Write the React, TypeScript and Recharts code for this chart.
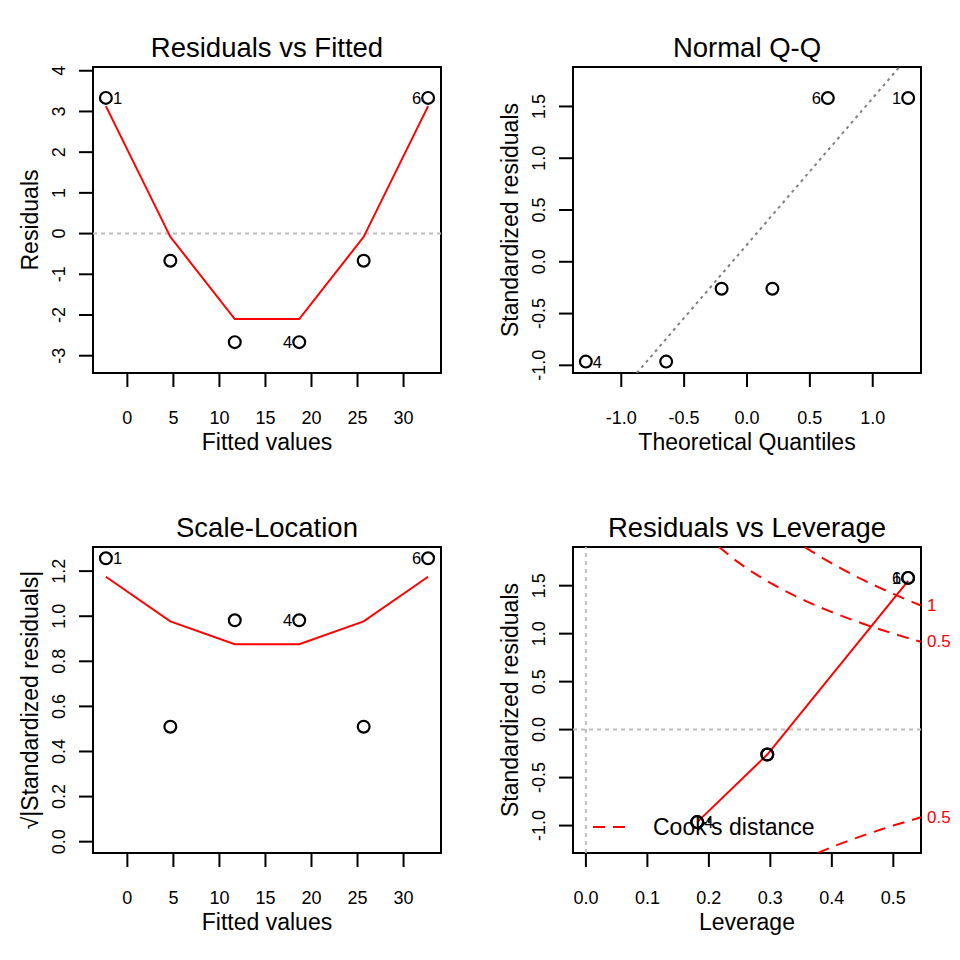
import React from 'react';
import {
  ComposedChart,
  XAxis,
  YAxis,
  Scatter,
  Line,
  ReferenceLine,
  ReferenceArea,
  ReferenceDot,
  Legend,
} from 'recharts';

// lm(y ~ x), x = 1..6, y = x^2 — diagnostic values
const obsIds = [1, 2, 3, 4, 5, 6];
const fitted = [-2.333, 4.667, 11.667, 18.667, 25.667, 32.667];
const residuals = [3.333, -0.667, -2.667, -2.667, -0.667, 3.333];
const stdResiduals = [1.581, -0.26, -0.964, -0.964, -0.26, 1.581];
const sqrtAbsStdRes = [1.257, 0.51, 0.982, 0.982, 0.51, 1.257];
const theoQuantiles = [1.282, -0.202, -0.643, -1.282, 0.202, 0.643];
const leverage = [0.524, 0.295, 0.181, 0.181, 0.295, 0.524];
const labelledIds = [1, 6, 4];

// red smoothers
const fitSmooth = [3.13, -0.08, -2.1, -2.1, -0.08, 3.13];
const scaleSmooth = [1.175, 0.977, 0.876, 0.876, 0.977, 1.175];
const levSmoothX = [0.181, 0.295, 0.524];
const levSmoothY = [-0.964, -0.26, 1.55];

// normal Q-Q reference line
const qqIntercept = 0.166;
const qqSlope = 1.415;

// Cook's distance contours (0.5 and 1)
const cookH05 = [0.2165, 0.24, 0.26, 0.28, 0.3, 0.32, 0.34, 0.36, 0.38, 0.4, 0.42, 0.44, 0.46, 0.48, 0.5, 0.52, 0.545];
const cookR05 = [1.903, 1.78, 1.687, 1.604, 1.528, 1.458, 1.393, 1.333, 1.277, 1.225, 1.175, 1.128, 1.083, 1.041, 1.0, 0.961, 0.914];
const cookH1 = [0.356, 0.38, 0.4, 0.42, 0.44, 0.46, 0.48, 0.5, 0.52, 0.545];
const cookR1 = [1.902, 1.806, 1.732, 1.662, 1.595, 1.532, 1.472, 1.414, 1.359, 1.292];
const cookHLow = [0.377, 0.4, 0.42, 0.44, 0.46, 0.48, 0.5, 0.52, 0.545];
const cookRLow = [-1.285, -1.225, -1.175, -1.128, -1.083, -1.041, -1.0, -0.961, -0.914];

// ticks
const fittedTicks = [0, 5, 10, 15, 20, 25, 30];
const residTicks = [-3, -2, -1, 0, 1, 2, 3, 4];
const qqXTicks = [-1, -0.5, 0, 0.5, 1];
const stdResTicks = [-1, -0.5, 0, 0.5, 1, 1.5];
const sqrtTicks = [0, 0.2, 0.4, 0.6, 0.8, 1.0, 1.2];
const levTicks = [0, 0.1, 0.2, 0.3, 0.4, 0.5];

const FONT = '"Liberation Sans", Arial, Helvetica, sans-serif';
const W = 480;
const H = 480;
// axes take 1px each, so the plotting box is 93..441 x 67..373
const M = { top: 67, right: 39, bottom: 106, left: 92 };
const BOX_L = M.left + 1;
const BOX_R = W - M.right;
const BOX_T = M.top;
const BOX_B = H - M.bottom - 1;
const RED = '#FF0000';

const intFmt = (v: number) => String(v);
const dec1 = (v: number) => v.toFixed(1);

type Pt = { x: number; y: number; id: number; side: 'left' | 'right' | null };

function makePoints(xs: number[], ys: number[]): Pt[] {
  const mid = (Math.min(...xs) + Math.max(...xs)) / 2;
  return obsIds.map((id, i) => ({
    x: xs[i],
    y: ys[i],
    id,
    side: labelledIds.includes(id) ? (xs[i] > mid ? 'left' : 'right') : null,
  }));
}

const toRows = (xs: number[], ys: number[]) => xs.map((x, i) => ({ x, y: ys[i] }));

function PointShape(props: any) {
  const { cx, cy, payload } = props;
  if (cx == null || cy == null) return null;
  const side = payload.side;
  return (
    <g>
      <circle cx={cx} cy={cy} r={5.9} fill="none" stroke="#000" strokeWidth={2.2} />
      {side && (
        <text
          x={side === 'left' ? cx - 7 : cx + 7}
          y={cy}
          textAnchor={side === 'left' ? 'end' : 'start'}
          dominantBaseline="central"
          fontSize={16.5}
          fontFamily={FONT}
          fill="#000"
        >
          {payload.id}
        </text>
      )}
    </g>
  );
}

const xTick = (fmt: (v: number) => string) => (props: any) => {
  const x = props.payload?.coordinate ?? props.x;
  return (
    <g>
      <line x1={x} x2={x} y1={BOX_B} y2={BOX_B + 14} stroke="#000" strokeWidth={2} />
      <text x={x} y={BOX_B + 51} textAnchor="middle" fontSize={18} fontFamily={FONT} fill="#000">
        {fmt(props.payload.value)}
      </text>
    </g>
  );
};

const yTick = (fmt: (v: number) => string) => (props: any) => {
  const y = props.payload?.coordinate ?? props.y;
  const tx = BOX_L - 28;
  return (
    <g>
      <line x1={BOX_L} x2={BOX_L - 14} y1={y} y2={y} stroke="#000" strokeWidth={2} />
      <text
        x={tx}
        y={y}
        transform={`rotate(-90 ${tx} ${y})`}
        textAnchor="middle"
        fontSize={18}
        fontFamily={FONT}
        fill="#000"
      >
        {fmt(props.payload.value)}
      </text>
    </g>
  );
};

interface PanelProps {
  title: string;
  xTitle: string;
  yTitle: string;
  xDomain: [number, number];
  yDomain: [number, number];
  xTicks: number[];
  yTicks: number[];
  xFmt: (v: number) => string;
  yFmt: (v: number) => string;
  points: Pt[];
  left: number;
  top: number;
  children?: React.ReactNode;
}

function Panel({ title, xTitle, yTitle, xDomain, yDomain, xTicks, yTicks, xFmt, yFmt, points, left, top, children }: PanelProps) {
  const cx = (BOX_L + BOX_R) / 2;
  const cy = (BOX_T + BOX_B) / 2;
  return (
    <div style={{ position: 'absolute', left, top, width: W, height: H }}>
      <ComposedChart width={W} height={H} margin={M}>
        <XAxis
          type="number"
          dataKey="x"
          domain={xDomain}
          allowDataOverflow
          ticks={xTicks}
          interval={0}
          height={1}
          axisLine={false}
          tickLine={false}
          tick={xTick(xFmt)}
          label={{
            content: () => (
              <g fontFamily={FONT} fill="#000">
                <text x={cx} y={BOX_T - 10} textAnchor="middle" fontSize={27.5}>
                  {title}
                </text>
                <text x={cx} y={BOX_B + 77} textAnchor="middle" fontSize={23}>
                  {xTitle}
                </text>
              </g>
            ),
          }}
        />
        <YAxis
          type="number"
          dataKey="y"
          domain={yDomain}
          allowDataOverflow
          ticks={yTicks}
          interval={0}
          width={1}
          axisLine={false}
          tickLine={false}
          tick={yTick(yFmt)}
          label={{
            content: () => (
              <text
                x={BOX_L - 55}
                y={cy}
                transform={`rotate(-90 ${BOX_L - 55} ${cy})`}
                textAnchor="middle"
                fontSize={23}
                fontFamily={FONT}
                fill="#000"
              >
                {yTitle}
              </text>
            ),
          }}
        />
        {children}
        <Scatter data={points} dataKey="y" shape={PointShape} isAnimationActive={false} legendType="none" />
        <ReferenceArea
          x1={xDomain[0]}
          x2={xDomain[1]}
          y1={yDomain[0]}
          y2={yDomain[1]}
          fill="none"
          fillOpacity={0}
          stroke="#000"
          strokeWidth={2}
          ifOverflow="visible"
        />
      </ComposedChart>
    </div>
  );
}

const cookLabels = [
  { y: cookR1[cookR1.length - 1], text: '1' },
  { y: cookR05[cookR05.length - 1], text: '0.5' },
  { y: cookRLow[cookRLow.length - 1], text: '0.5' },
];

export default function App() {
  const p4x: [number, number] = [-0.021, 0.545];
  const qqX: [number, number] = [-1.384, 1.384];
  return (
    <div style={{ position: 'absolute', left: 0, top: 0, width: 960, height: 960, background: '#fff', fontFamily: FONT }}>
      <Panel
        title="Residuals vs Fitted"
        xTitle="Fitted values"
        yTitle="Residuals"
        xDomain={[-3.733, 34.067]}
        yDomain={[-3.425, 4.092]}
        xTicks={fittedTicks}
        yTicks={residTicks}
        xFmt={intFmt}
        yFmt={intFmt}
        points={makePoints(fitted, residuals)}
        left={0}
        top={0}
      >
        <ReferenceLine y={0} stroke="#bebebe" strokeWidth={2} strokeDasharray="4 4" />
        <Line
          data={toRows(fitted, fitSmooth)}
          dataKey="y"
          type="linear"
          stroke={RED}
          strokeWidth={2}
          dot={false}
          activeDot={false}
          isAnimationActive={false}
          legendType="none"
        />
      </Panel>

      <Panel
        title="Normal Q-Q"
        xTitle="Theoretical Quantiles"
        yTitle="Standardized residuals"
        xDomain={qqX}
        yDomain={[-1.074, 1.881]}
        xTicks={qqXTicks}
        yTicks={stdResTicks}
        xFmt={dec1}
        yFmt={dec1}
        points={makePoints(theoQuantiles, stdResiduals)}
        left={480}
        top={0}
      >
        <ReferenceLine
          segment={[
            { x: qqX[0], y: qqIntercept + qqSlope * qqX[0] },
            { x: qqX[1], y: qqIntercept + qqSlope * qqX[1] },
          ]}
          stroke="#7f7f7f"
          strokeWidth={2}
          strokeDasharray="3 4"
          ifOverflow="hidden"
        />
      </Panel>

      <Panel
        title="Scale-Location"
        xTitle="Fitted values"
        yTitle="√|Standardized residuals|"
        xDomain={[-3.733, 34.067]}
        yDomain={[-0.0503, 1.307]}
        xTicks={fittedTicks}
        yTicks={sqrtTicks}
        xFmt={intFmt}
        yFmt={dec1}
        points={makePoints(fitted, sqrtAbsStdRes)}
        left={0}
        top={480}
      >
        <Line
          data={toRows(fitted, scaleSmooth)}
          dataKey="y"
          type="linear"
          stroke={RED}
          strokeWidth={2}
          dot={false}
          activeDot={false}
          isAnimationActive={false}
          legendType="none"
        />
      </Panel>

      <Panel
        title="Residuals vs Leverage"
        xTitle="Leverage"
        yTitle="Standardized residuals"
        xDomain={p4x}
        yDomain={[-1.286, 1.903]}
        xTicks={levTicks}
        yTicks={stdResTicks}
        xFmt={dec1}
        yFmt={dec1}
        points={makePoints(leverage, stdResiduals)}
        left={480}
        top={480}
      >
        <ReferenceLine y={0} stroke="#bebebe" strokeWidth={2} strokeDasharray="4 4" />
        <ReferenceLine x={0} stroke="#bebebe" strokeWidth={2} strokeDasharray="4 4" />
        {[
          toRows(cookH05, cookR05),
          toRows(cookH1, cookR1),
          toRows(cookHLow, cookRLow),
        ].map((rows, i) => (
          <Line
            key={`cook-${i}`}
            data={rows}
            dataKey="y"
            type="linear"
            stroke={RED}
            strokeWidth={2}
            strokeDasharray="12 8"
            dot={false}
            activeDot={false}
            isAnimationActive={false}
            legendType="none"
          />
        ))}
        <Line
          data={toRows(levSmoothX, levSmoothY)}
          dataKey="y"
          type="linear"
          stroke={RED}
          strokeWidth={2}
          dot={false}
          activeDot={false}
          isAnimationActive={false}
          legendType="none"
        />
        {cookLabels.map((c, i) => (
          <ReferenceDot
            key={`cl-${i}`}
            x={p4x[1]}
            y={c.y}
            ifOverflow="visible"
            shape={(props: any) => (
              <text
                x={props.cx + 6}
                y={props.cy}
                dominantBaseline="central"
                fontSize={17}
                fontFamily={FONT}
                fill={RED}
              >
                {c.text}
              </text>
            )}
          />
        ))}
        <Legend
          layout="horizontal"
          verticalAlign="middle"
          align="center"
          wrapperStyle={{ left: 110, top: 332, width: 300, height: 30 }}
          content={() => (
            <svg width={300} height={30}>
              <line x1={3} x2={43} y1={15} y2={15} stroke={RED} strokeWidth={2} strokeDasharray="12 8" />
              <text x={63} y={15} dominantBaseline="central" fontSize={23} fontFamily={FONT} fill="#000">
                Cook's distance
              </text>
            </svg>
          )}
        />
      </Panel>
    </div>
  );
}
